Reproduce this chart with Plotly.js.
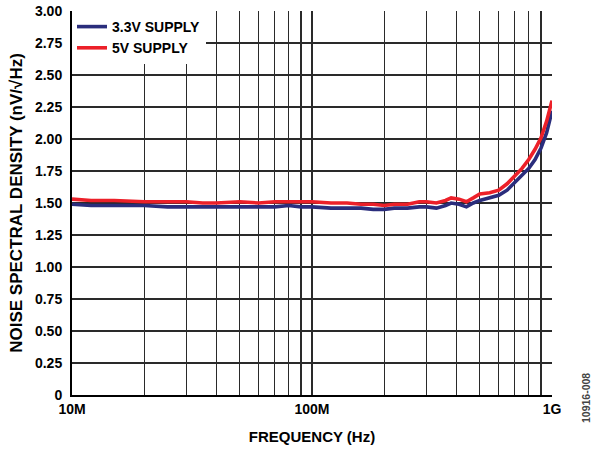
<!DOCTYPE html>
<html>
<head>
<meta charset="utf-8">
<script src="https://cdn.plot.ly/plotly-3.0.1.min.js"></script>
<style>html,body{margin:0;padding:0;background:#fff;}#chart{width:593px;height:450px;}</style>
</head>
<body>
<div id="chart"></div>
<script>
// Frequency in MHz
var freqMHz = [10, 12, 15, 20, 25, 30, 35, 40, 50, 60, 70, 80, 90, 100, 120, 140, 160, 180, 200, 220, 250, 280, 300, 330, 360, 380, 410, 440, 470, 500, 550, 600, 650, 700, 750, 800, 850, 900, 950, 1000];
var supply5V = [1.53, 1.52, 1.52, 1.51, 1.51, 1.51, 1.50, 1.50, 1.51, 1.50, 1.51, 1.51, 1.51, 1.51, 1.50, 1.50, 1.49, 1.49, 1.48, 1.49, 1.49, 1.51, 1.51, 1.50, 1.52, 1.54, 1.53, 1.51, 1.54, 1.57, 1.58, 1.60, 1.65, 1.71, 1.77, 1.84, 1.92, 2.01, 2.14, 2.30];
var supply33V = [1.49, 1.48, 1.48, 1.48, 1.47, 1.47, 1.47, 1.47, 1.47, 1.47, 1.47, 1.48, 1.47, 1.47, 1.46, 1.46, 1.46, 1.45, 1.45, 1.46, 1.46, 1.47, 1.47, 1.46, 1.48, 1.50, 1.49, 1.47, 1.50, 1.52, 1.54, 1.56, 1.60, 1.66, 1.71, 1.77, 1.84, 1.93, 2.05, 2.22];
var seriesNames = ['3.3V SUPPLY', '5V SUPPLY'];
var yTickVals = [0, 0.25, 0.5, 0.75, 1, 1.25, 1.5, 1.75, 2, 2.25, 2.5, 2.75, 3];
var yTickText = ['0', '0.25', '0.50', '0.75', '1.00', '1.25', '1.50', '1.75', '2.00', '2.25', '2.50', '2.75', '3.00'];
var xDecades = [1e7, 1e8, 1e9];
var xDecadeText = ['10M', '100M', '1G'];

var freqHz = freqMHz.map(function (f) { return f * 1e6; });

var xTickVals = [], xTickText = [];
for (var d = 0; d < xDecades.length; d++) {
  for (var m = 1; m <= 9; m++) {
    if (d === xDecades.length - 1 && m > 1) break;
    xTickVals.push(xDecades[d] * m);
    xTickText.push(m === 1 ? xDecadeText[d] : '');
  }
}

var fam = 'Arial, "Liberation Sans", sans-serif';
var tickFont = {family: fam, size: 14, color: '#000', weight: 'bold'};

var traces = [
  {x: freqHz, y: supply33V, name: seriesNames[0], type: 'scatter', mode: 'lines',
   line: {color: '#2a2d7c', width: 3.6}},
  {x: freqHz, y: supply5V, name: seriesNames[1], type: 'scatter', mode: 'lines',
   line: {color: '#ec2029', width: 3.6}}
];

var layout = {
  width: 593, height: 450,
  margin: {l: 72, r: 41, t: 11, b: 55},
  paper_bgcolor: '#fff', plot_bgcolor: '#fff',
  font: tickFont,
  showlegend: true,
  legend: {x: 0, y: 1, xanchor: 'left', yanchor: 'top', bgcolor: '#fff',
           font: {family: fam, size: 14, color: '#000', weight: 'bold'},
           tracegroupgap: 0, itemwidth: 30, borderwidth: 0},
  xaxis: {
    type: 'log', range: [7, 9],
    tickvals: xTickVals, ticktext: xTickText, ticks: '',
    showgrid: true, gridcolor: '#2a2a2a', gridwidth: 1.3,
    showline: true, linecolor: '#000', linewidth: 2, mirror: false,
    zeroline: false, tickfont: tickFont,
    title: {text: 'FREQUENCY (Hz)', font: {family: fam, size: 15, color: '#000', weight: 'bold'}, standoff: 16}
  },
  yaxis: {
    range: [0, 3], tickvals: yTickVals, ticktext: yTickText, ticks: '',
    showgrid: true, gridcolor: '#2a2a2a', gridwidth: 1.3,
    showline: true, linecolor: '#000', linewidth: 2,
    zeroline: false, tickfont: tickFont, ticklabelstandoff: 5,
    title: {text: 'NOISE SPECTRAL DENSITY (nV/√Hz)', font: {family: fam, size: 17, color: '#000', weight: 'bold'}, standoff: 8}
  },
  annotations: [
    {text: '10916-008', xref: 'paper', yref: 'paper', x: 1, y: 0, xanchor: 'left', yanchor: 'middle',
     xshift: 26, yshift: -3, textangle: -90, showarrow: false,
     font: {family: fam, size: 10.5, color: '#444'}}
  ]
};

Plotly.newPlot('chart', traces, layout, {displayModeBar: false, staticPlot: true});
</script>
</body>
</html>
